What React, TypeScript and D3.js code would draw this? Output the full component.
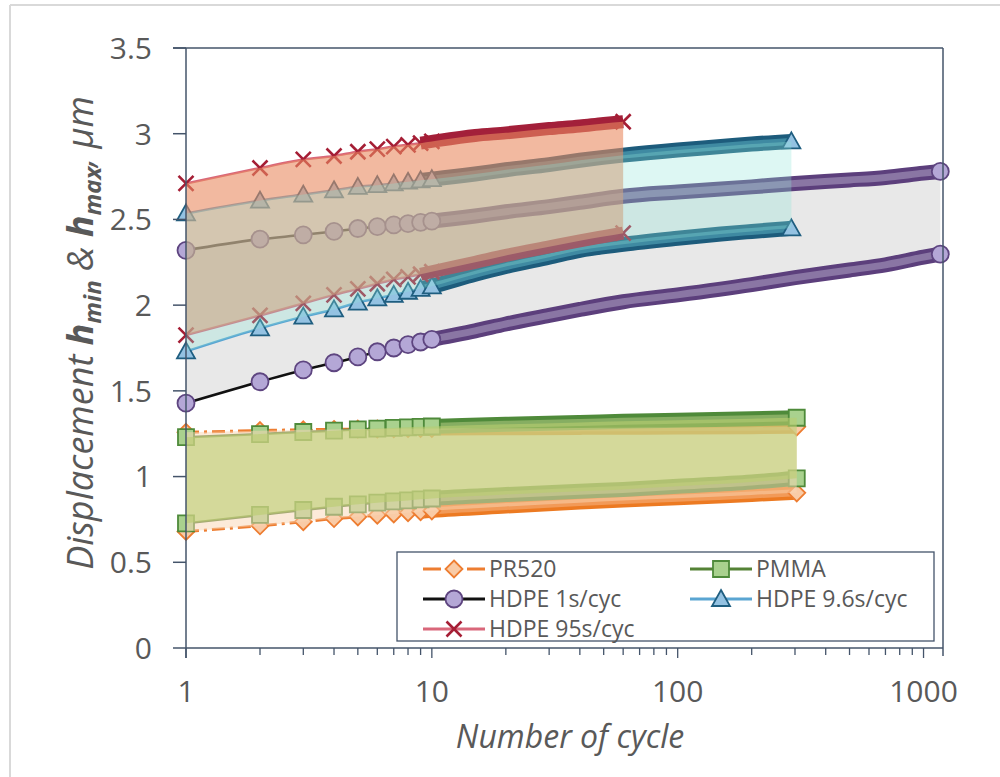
import React from 'react';
import * as d3 from 'd3';

const W = 1000;
const H = 777;

// PR520
const prCycles = [1, 2, 3, 4, 5, 6, 7, 8, 9, 10, 20, 40, 60, 100, 200, 305];
const prMax = [1.258, 1.268, 1.273, 1.275, 1.277, 1.278, 1.279, 1.28, 1.28, 1.28, 1.282, 1.284, 1.285, 1.286, 1.288, 1.29];
const prMin = [0.68, 0.713, 0.737, 0.755, 0.765, 0.775, 0.782, 0.789, 0.795, 0.8, 0.825, 0.848, 0.86, 0.873, 0.893, 0.905];

// PMMA
const pmmaCycles = [1, 2, 3, 4, 5, 6, 7, 8, 9, 10, 20, 40, 60, 100, 200, 305];
const pmmaMax = [1.23, 1.248, 1.26, 1.268, 1.275, 1.28, 1.284, 1.287, 1.29, 1.292, 1.305, 1.316, 1.322, 1.328, 1.338, 1.343];
const pmmaMin = [0.727, 0.776, 0.805, 0.824, 0.838, 0.848, 0.855, 0.861, 0.867, 0.872, 0.895, 0.915, 0.925, 0.943, 0.968, 0.99];

// HDPE 1s/cyc
const h1Cycles = [1, 2, 3, 4, 5, 6, 7, 8, 9, 10, 15, 20, 30, 40, 60, 100, 200, 300, 500, 700, 1000, 1170];
const h1Max = [2.32, 2.385, 2.41, 2.43, 2.447, 2.458, 2.468, 2.476, 2.483, 2.49, 2.52, 2.545, 2.575, 2.6, 2.635, 2.66, 2.69, 2.71, 2.73, 2.745, 2.77, 2.78];
const h1Min = [1.428, 1.553, 1.622, 1.664, 1.698, 1.728, 1.75, 1.77, 1.785, 1.8, 1.85, 1.89, 1.94, 1.975, 2.02, 2.06, 2.12, 2.16, 2.205, 2.235, 2.28, 2.298];

// HDPE 9.6s/cyc
const h96Cycles = [1, 2, 3, 4, 5, 6, 7, 8, 9, 10, 15, 20, 30, 40, 60, 100, 150, 200, 290];
const h96Max = [2.535, 2.61, 2.645, 2.67, 2.69, 2.7, 2.71, 2.72, 2.728, 2.735, 2.765, 2.79, 2.82, 2.845, 2.875, 2.905, 2.925, 2.94, 2.955];
const h96Min = [1.73, 1.865, 1.933, 1.975, 2.015, 2.04, 2.06, 2.078, 2.095, 2.11, 2.18, 2.225, 2.28, 2.32, 2.355, 2.39, 2.415, 2.43, 2.448];

// HDPE 95s/cyc
const h95Cycles = [1, 2, 3, 4, 5, 6, 7, 8, 9, 10, 15, 20, 30, 40, 50, 60];
const h95Max = [2.71, 2.8, 2.85, 2.87, 2.895, 2.91, 2.925, 2.935, 2.945, 2.955, 2.99, 3.005, 3.03, 3.045, 3.06, 3.07];
const h95Min = [1.825, 1.94, 2.01, 2.06, 2.095, 2.125, 2.15, 2.165, 2.18, 2.195, 2.25, 2.29, 2.34, 2.375, 2.4, 2.42];

const yTicks = [0, 0.5, 1, 1.5, 2, 2.5, 3, 3.5];
const xTickLabels = [1, 10, 100, 1000];
const legendLabels = ['PR520', 'PMMA', 'HDPE 1s/cyc', 'HDPE 9.6s/cyc', 'HDPE 95s/cyc'];

const AXIS = '#44546A';
const TEXT = '#595959';
const FONT = "'Open Sans', 'Noto Sans', sans-serif";

const x = d3.scaleLog().domain([1, 1200]).range([186, 943]);
const y = d3.scaleLinear().domain([0, 3.5]).range([648, 48]);

type Kind = 'diamond' | 'square' | 'circle' | 'triangle' | 'x';

const series = [
  { name: legendLabels[0], cycles: prCycles, lo: prMin, hi: prMax, line: '#ED7D31', lw: 3, dash: '13 5 3 5', kind: 'diamond' as Kind, mFill: '#F9CBA6', mStroke: '#ED7D31', bandOuter: '#EC7A22', bandInner: '#F29A58', bw: 14, fill: '#F9D6B4', fillOp: 0.5 },
  { name: legendLabels[1], cycles: pmmaCycles, lo: pmmaMin, hi: pmmaMax, line: '#548235', lw: 2.5, dash: null, kind: 'square' as Kind, mFill: '#A9D18E', mStroke: '#4E8A3A', bandOuter: '#4F8A3A', bandInner: '#86AE62', bw: 15, fill: '#B9CD70', fillOp: 0.6 },
  { name: legendLabels[2], cycles: h1Cycles, lo: h1Min, hi: h1Max, line: '#111111', lw: 2.5, dash: null, kind: 'circle' as Kind, mFill: '#B4A7D6', mStroke: '#5E4580', bandOuter: '#5C3F7C', bandInner: '#8A76A4', bw: 15, fill: '#E8E8E8', fillOp: 1 },
  { name: legendLabels[3], cycles: h96Cycles, lo: h96Min, hi: h96Max, line: '#5AA5D2', lw: 2.5, dash: null, kind: 'triangle' as Kind, mFill: '#94C2E2', mStroke: '#1F5E80', bandOuter: '#1D5C7C', bandInner: '#3F8AA2', bw: 15, fill: '#8EE4D7', fillOp: 0.3 },
  { name: legendLabels[4], cycles: h95Cycles, lo: h95Min, hi: h95Max, line: '#D9677A', lw: 2.5, dash: null, kind: 'x' as Kind, mFill: 'none', mStroke: '#A51E35', bandOuter: '#A3203A', bandInner: '#A3203A', bw: 13, fill: '#E98A61', fillOp: 0.6 },
];

// fills under the markers first, then these on top, in this order
const topFillOrder = [0, 1, 4, 3];

const line = d3
  .line<[number, number]>()
  .x((d) => x(d[0]))
  .y((d) => y(d[1]))
  .curve(d3.curveMonotoneX);

const area = d3
  .area<[number, number, number]>()
  .x((d) => x(d[0]))
  .y0((d) => y(d[1]))
  .y1((d) => y(d[2]))
  .curve(d3.curveMonotoneX);

function Marker({ kind, cx, cy, fill, stroke }: { kind: Kind; cx: number; cy: number; fill: string; stroke: string }) {
  const t = `translate(${cx},${cy})`;
  if (kind === 'circle') return <circle cx={cx} cy={cy} r={8.5} fill={fill} stroke={stroke} strokeWidth={1.8} />;
  if (kind === 'x')
    return <path transform={t} d="M-7.5,-7.5L7.5,7.5M-7.5,7.5L7.5,-7.5" stroke={stroke} strokeWidth={2.6} fill="none" />;
  let d = '';
  if (kind === 'square') d = 'M-8,-8H8V8H-8Z';
  if (kind === 'diamond') d = 'M0,-8.5L8.5,0L0,8.5L-8.5,0Z';
  if (kind === 'triangle') d = 'M0,-9L9,7L-9,7Z';
  return <path transform={t} d={d} fill={fill} stroke={stroke} strokeWidth={1.8} />;
}

function Curve({ s, vals }: { s: (typeof series)[number]; vals: number[] }) {
  const pts = s.cycles.map((c, i) => [c, vals[i]] as [number, number]);
  const band = pts.filter((p) => p[0] >= 9);
  const shown = pts.filter((p, i) => p[0] <= 10 || i === pts.length - 1);
  return (
    <g>
      <path d={line(pts) || ''} fill="none" stroke={s.line} strokeWidth={s.lw} strokeDasharray={s.dash || undefined} />
      <path d={line(band) || ''} fill="none" stroke={s.bandOuter} strokeWidth={s.bw} />
      <path d={line(band) || ''} fill="none" stroke={s.bandInner} strokeWidth={7} />
      {shown.map((p, i) => (
        <Marker key={i} kind={s.kind} cx={x(p[0])} cy={y(p[1])} fill={s.mFill} stroke={s.mStroke} />
      ))}
    </g>
  );
}

function Fill({ s }: { s: (typeof series)[number] }) {
  const rows = s.cycles.map((c, i) => [c, s.lo[i], s.hi[i]] as [number, number, number]);
  return <path d={area(rows) || ''} fill={s.fill} fillOpacity={s.fillOp} />;
}

function LegendItem({ s, lx, ly }: { s: (typeof series)[number]; lx: number; ly: number }) {
  return (
    <g>
      <line
        x1={lx}
        x2={lx + 62}
        y1={ly}
        y2={ly}
        stroke={s.line}
        strokeWidth={3}
        strokeDasharray={s.dash ? '18 26' : undefined}
      />
      <Marker kind={s.kind} cx={lx + 31} cy={ly} fill={s.mFill} stroke={s.mStroke} />
      <text x={lx + 66} y={ly} dy="0.35em" fontSize={23} fill={TEXT} fontFamily={FONT}>
        {s.name}
      </text>
    </g>
  );
}

export default function App() {
  const ticks = x.ticks();
  const legendPos = [
    [423, 569],
    [690, 569],
    [423, 599],
    [690, 599],
    [423, 629],
  ];
  return (
    <div style={{ position: 'absolute', left: 0, top: 0 }}>
      <svg width={W} height={H} style={{ display: 'block', background: '#fff' }}>
        <line x1={10} y1={5} x2={W} y2={5} stroke="#D9D9D9" strokeWidth={2} />
        <line x1={10} y1={5} x2={10} y2={H} stroke="#D9D9D9" strokeWidth={2} />

        {/* under-layer fill */}
        <Fill s={series[2]} />

        {series.map((s, i) => (
          <g key={i}>
            <Curve s={s} vals={s.lo} />
            <Curve s={s} vals={s.hi} />
          </g>
        ))}

        {topFillOrder.map((i) => (
          <Fill key={i} s={series[i]} />
        ))}

        {/* frame and axes */}
        <line x1={173} x2={943} y1={48} y2={48} stroke={AXIS} strokeWidth={1.5} />
        <line x1={943} x2={943} y1={48} y2={656} stroke={AXIS} strokeWidth={1.5} />
        <line x1={186} x2={186} y1={48} y2={658} stroke={AXIS} strokeWidth={1.5} />
        <line x1={186} x2={943} y1={648} y2={648} stroke={AXIS} strokeWidth={1.5} />
        {yTicks.map((t) => (
          <g key={t}>
            <line x1={173} x2={186} y1={y(t)} y2={y(t)} stroke={AXIS} strokeWidth={1.5} />
            <text x={152} y={y(t)} dy="0.36em" textAnchor="end" fontSize={30} fill={TEXT} fontFamily={FONT}>
              {t}
            </text>
          </g>
        ))}
        {ticks.map((t, i) => {
          const major = Math.abs(Math.log10(t) - Math.round(Math.log10(t))) < 1e-9;
          return <line key={i} x1={x(t)} x2={x(t)} y1={648} y2={major ? 658 : 655} stroke={AXIS} strokeWidth={1.3} />;
        })}
        {xTickLabels.map((t) => (
          <text key={t} x={x(t)} y={691} dy="0.36em" textAnchor="middle" fontSize={30} fill={TEXT} fontFamily={FONT}>
            {t}
          </text>
        ))}

        <text x={570} y={736} dy="0.36em" textAnchor="middle" fontSize={32} fontStyle="italic" fill={TEXT} fontFamily={FONT}>
          Number of cycle
        </text>
        <text
          transform="translate(80,333) rotate(-90)"
          dy="0.36em"
          textAnchor="middle"
          fontSize={36}
          fontStyle="italic"
          fill={TEXT}
          fontFamily={FONT}
        >
          Displacement{' '}
          <tspan fontWeight="bold">h</tspan>
          <tspan fontWeight="bold" fontSize={24} dy={8}>
            min
          </tspan>
          <tspan dy={-8}> &amp; </tspan>
          <tspan fontWeight="bold">h</tspan>
          <tspan fontWeight="bold" fontSize={24} dy={8}>
            max
          </tspan>
          <tspan dy={-8}>, μm</tspan>
        </text>

        {/* legend */}
        <rect x={397} y={552} width={537} height={89} fill="#fff" stroke={AXIS} strokeWidth={1.3} />
        {series.map((s, i) => (
          <LegendItem key={i} s={s} lx={legendPos[i][0]} ly={legendPos[i][1]} />
        ))}
      </svg>
    </div>
  );
}
